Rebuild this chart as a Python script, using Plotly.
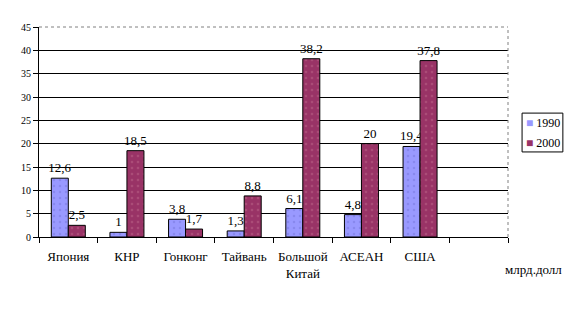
import plotly.graph_objects as go

categories = ["Япония", "КНР", "Гонконг", "Тайвань", "Большой<br>Китай", "АСЕАН", "США", " "]
v1990 = [12.6, 1, 3.8, 1.3, 6.1, 4.8, 19.4, None]
v2000 = [2.5, 18.5, 1.7, 8.8, 38.2, 20, 37.8, None]
y_ticks = [0, 5, 10, 15, 20, 25, 30, 35, 40, 45]
series = [("1990", v1990, "#9999FF", "#7777DD"), ("2000", v2000, "#993366", "#BB6688")]

font_family = "Times New Roman, Liberation Serif, Tinos, serif"

fig = go.Figure()
for name, vals, color, dotc in series:
    fig.add_trace(go.Bar(
        name=name, x=categories, y=vals, showlegend=False,
        marker=dict(color=color, line=dict(color="black", width=1),
                    pattern=dict(shape=".", fgcolor=dotc, size=6, solidity=0.15)),
        texttemplate="%{y}", textposition="outside", cliponaxis=False,
        constraintext="none",
        textfont=dict(family=font_family, size=13, color="black"),
    ))

# legend drawn as text entries inside a bordered box
legend_ann = []
legend_y = [0.545, 0.45]
for (name, vals, color, dotc), ly in zip(series, legend_y):
    legend_ann.append(dict(
        text="<span style='color:%s'>■</span> %s" % (color, name),
        xref="paper", yref="paper", x=1.034, y=ly, xanchor="left", yanchor="middle",
        showarrow=False, font=dict(family=font_family, size=12, color="black")))

fig.update_layout(
    width=576, height=324,
    margin=dict(l=39, r=68, t=27, b=87, autoexpand=False),
    paper_bgcolor="white", plot_bgcolor="white",
    barmode="group", bargap=0.42, bargroupgap=0,
    separators=", ",
    font=dict(family=font_family, size=12, color="black"),
    showlegend=False,
    xaxis=dict(type="category", range=[-0.5, 7.5], tickson="boundaries",
               ticks="outside", ticklen=5, tickcolor="black", tickangle=0,
               showline=True, linecolor="black", linewidth=1, ticklabelstandoff=7,
               showgrid=False, tickfont=dict(family=font_family, size=13, color="black")),
    yaxis=dict(range=[0, 45], tickvals=y_ticks, ticks="outside", ticklen=5,
               tickcolor="black", showline=True, linecolor="black", linewidth=1,
               showgrid=True, gridcolor="black", gridwidth=1, zeroline=False,
               tickfont=dict(family=font_family, size=10, color="black")),
    annotations=[dict(text="млрд.долл", xref="paper", yref="paper", x=0.99, y=-0.157,
                      xanchor="left", yanchor="middle",
                      showarrow=False, font=dict(family=font_family, size=13, color="black"))]
                + legend_ann,
    shapes=[
        dict(type="line", xref="paper", yref="paper", x0=0, x1=1, y0=1, y1=1,
             line=dict(color="white", width=2), layer="above"),
        dict(type="line", xref="paper", yref="paper", x0=0, x1=1, y0=1, y1=1,
             line=dict(color="gray", width=1, dash="dot"), layer="above"),
        dict(type="line", xref="paper", yref="paper", x0=1, x1=1, y0=0, y1=1,
             line=dict(color="gray", width=1, dash="dot"), layer="above"),
        dict(type="rect", xref="paper", yref="paper", x0=1.03, x1=1.117, y0=0.405, y1=0.59,
             line=dict(color="black", width=1), fillcolor="white", layer="below"),
    ],
)

fig.write_html("out.html")
